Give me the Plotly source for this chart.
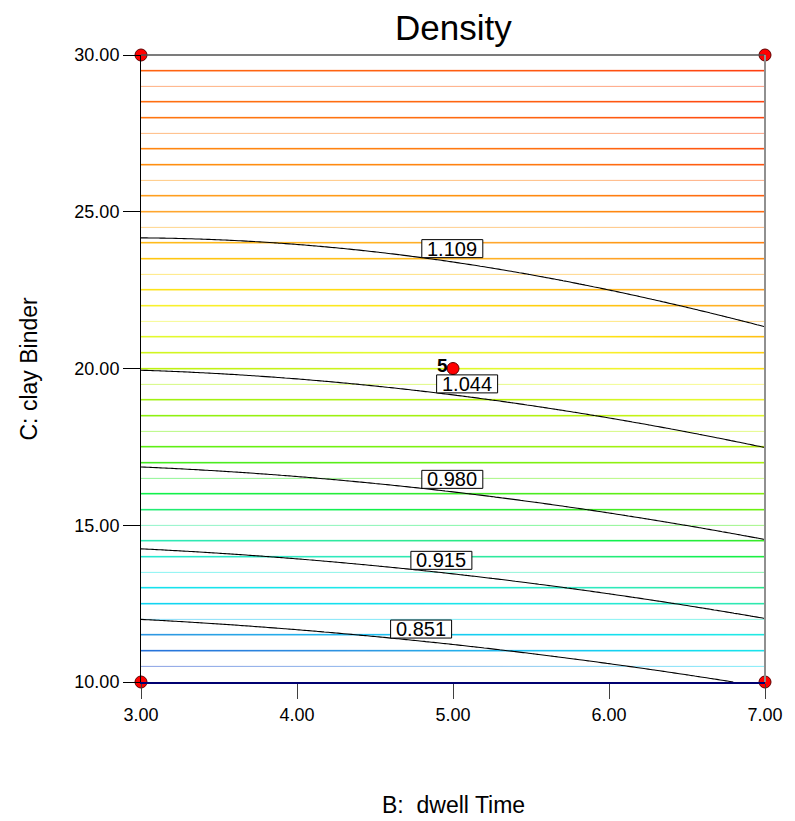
import numpy as np
import plotly.graph_objects as go

# ---- factor ranges (actual units) ----
B_RANGE = [3.0, 7.0]     # B: dwell Time
C_RANGE = [10.0, 30.0]   # C: clay Binder

# ---- quadratic response model for Density, coded factors x (B) and y (C) ----
# terms: intercept, B, C, BC, B^2, C^2
model_terms = ["intercept", "B", "C", "BC", "B2", "C2"]
model_coefs = [1.059, 0.022, 0.172, -0.012, 0.008, -0.073]

# ---- contour levels and where their labels sit along B ----
contour_levels = [0.851, 0.915, 0.980, 1.044, 1.109]
contour_text = ["0.851", "0.915", "0.980", "1.044", "1.109"]
label_at_B = [4.60, 4.73, 4.80, 4.895, 4.80]

# ---- design points ----
design_B = [3.0, 3.0, 7.0, 7.0, 5.0]
design_C = [10.0, 30.0, 10.0, 30.0, 20.0]
design_count = ["", "", "", "", "5"]

# ---- axis ticks ----
b_ticks = [3.0, 4.0, 5.0, 6.0, 7.0]
c_ticks = [10.0, 15.0, 20.0, 25.0, 30.0]

# ---- graduated colour scale for the response ----
shade_values = [0.788, 0.805, 0.820, 0.836, 0.851, 0.870, 0.895, 0.920, 0.940,
                0.960, 0.980, 1.000, 1.020, 1.045, 1.062, 1.079, 1.090, 1.100,
                1.119, 1.130, 1.140, 1.154, 1.176]
shade_colors = ["#0010A0", "#1040C8", "#1868D8", "#2090E0", "#10B8F0", "#00D8F0",
                "#10E8E8", "#20E8B8", "#20E888", "#00F040", "#30E818", "#60F000",
                "#90F000", "#B8F000", "#E0FA20", "#F8F020", "#FFDC00", "#FFC400",
                "#FFA020", "#FF9000", "#FF7A00", "#FF5800", "#FF3000"]
shade_step_C = 0.5   # spacing of the graduated colour rules along C


def coded(v, lo, hi):
    return (np.asarray(v, dtype=float) - (lo + hi) / 2.0) / ((hi - lo) / 2.0)


def density(B, C):
    x = coded(B, *B_RANGE)
    y = coded(C, *C_RANGE)
    b0, b1, b2, b12, b11, b22 = model_coefs
    return b0 + b1 * x + b2 * y + b12 * x * y + b11 * x ** 2 + b22 * y ** 2


def c_on_level(B, level):
    """Solve the model for C at a given B and response level."""
    x = coded(B, *B_RANGE)
    b0, b1, b2, b12, b11, b22 = model_coefs
    a = b22
    b = b2 + b12 * x
    c = b0 + b1 * x + b11 * x ** 2 - level
    disc = np.sqrt(b * b - 4 * a * c)
    y = (-b + disc) / (2 * a)
    if y < -1 or y > 1:
        y = (-b - disc) / (2 * a)
    lo, hi = C_RANGE
    return (lo + hi) / 2.0 + y * (hi - lo) / 2.0


vmin, vmax = shade_values[0], shade_values[-1]
colorscale = [[(v - vmin) / (vmax - vmin), col] for v, col in zip(shade_values, shade_colors)]

fig = go.Figure()

# graduated colour rules (thin horizontal bands coloured by the response)
grid_B = np.linspace(B_RANGE[0], B_RANGE[1], 121)
grid_rules = np.arange(C_RANGE[0] + shade_step_C, C_RANGE[1], shade_step_C)
BB, CC = np.meshgrid(grid_B, grid_rules)
fig.add_trace(go.Heatmap(
    x=grid_B, y=grid_rules, z=density(BB, CC),
    colorscale=colorscale, zmin=vmin, zmax=vmax,
    showscale=False, ygap=14.5, xgap=0, hoverinfo="skip",
))

# response contours
grid_Bc = np.linspace(B_RANGE[0], B_RANGE[1], 161)
grid_Cc = np.linspace(C_RANGE[0], C_RANGE[1], 201)
BBc, CCc = np.meshgrid(grid_Bc, grid_Cc)
Zc = density(BBc, CCc)
for lev in contour_levels:
    fig.add_trace(go.Contour(
        x=grid_Bc, y=grid_Cc, z=Zc,
        autocontour=False,
        contours=dict(start=lev, end=lev, size=0.01, coloring="none"),
        line=dict(color="black", width=1.1),
        showscale=False, hoverinfo="skip",
    ))

# contour value labels in white boxes
shapes = []
annotations = []
for lev, txt, bx in zip(contour_levels, contour_text, label_at_B):
    cy = c_on_level(bx, lev)
    shapes.append(dict(
        type="rect", xref="x", yref="y", xsizemode="pixel", ysizemode="pixel",
        xanchor=bx, yanchor=cy, x0=0, x1=61, y0=0, y1=18,
        fillcolor="white", line=dict(color="black", width=1), layer="above",
    ))
    annotations.append(dict(
        x=bx, y=cy, xref="x", yref="y", text=txt, showarrow=False,
        xanchor="center", yanchor="middle", xshift=30.5, yshift=9,
        font=dict(family="Liberation Sans, Arial", size=20, color="black"),
    ))

# design points
fig.add_trace(go.Scatter(
    x=design_B, y=design_C, mode="markers", cliponaxis=False,
    marker=dict(size=12, color="#FF0000", line=dict(color="#600000", width=1)),
    hoverinfo="skip", showlegend=False,
))
for bx, cy, cnt in zip(design_B, design_C, design_count):
    if cnt:
        annotations.append(dict(
            x=bx, y=cy, xref="x", yref="y", text="<b>%s</b>" % cnt, showarrow=False,
            xanchor="right", yanchor="middle", xshift=-3, yshift=3,
            font=dict(family="Liberation Sans, Arial", size=19, color="black"),
        ))

# frame: top and right borders
shapes.append(dict(type="line", xref="paper", yref="paper", x0=0, x1=1, y0=1, y1=1,
                   line=dict(color="#505050", width=1.5), layer="above"))
shapes.append(dict(type="line", xref="paper", yref="paper", x0=1, x1=1, y0=0, y1=1,
                   line=dict(color="#909090", width=2), layer="above"))

# titles
annotations.append(dict(x=0.5, y=1, xref="paper", yref="paper", text="Density",
                        showarrow=False, xanchor="center", yanchor="middle", yshift=28,
                        font=dict(family="Liberation Sans, Arial", size=35, color="black")))
annotations.append(dict(x=0.5, y=0, xref="paper", yref="paper", text="B:  dwell Time",
                        showarrow=False, xanchor="center", yanchor="middle", yshift=-123,
                        font=dict(family="Liberation Sans, Arial", size=23, color="black")))
annotations.append(dict(x=0, y=0.5, xref="paper", yref="paper", text="C: clay Binder",
                        showarrow=False, xanchor="center", yanchor="middle", xshift=-113,
                        textangle=-90,
                        font=dict(family="Liberation Sans, Arial", size=23, color="black")))

fig.update_layout(
    width=795, height=821,
    margin=dict(l=141, r=24, t=55, b=139),
    paper_bgcolor="white", plot_bgcolor="white",
    showlegend=False,
    shapes=shapes, annotations=annotations,
    font=dict(family="Liberation Sans, Arial", size=18, color="black"),
)
fig.update_xaxes(
    range=B_RANGE, tickvals=b_ticks, tickformat=".2f",
    ticks="outside", ticklen=15, tickwidth=1, tickcolor="#404040",
    showline=True, linecolor="#000070", linewidth=2,
    showgrid=False, zeroline=False,
    tickfont=dict(family="Liberation Sans, Arial", size=18, color="black"),
)
fig.update_yaxes(
    range=C_RANGE, tickvals=c_ticks, tickformat=".2f",
    ticks="outside", ticklen=17, tickwidth=1, tickcolor="black",
    showline=True, linecolor="black", linewidth=1,
    showgrid=False, zeroline=False,
    tickfont=dict(family="Liberation Sans, Arial", size=18, color="black"),
)

fig.write_html("out.html")
